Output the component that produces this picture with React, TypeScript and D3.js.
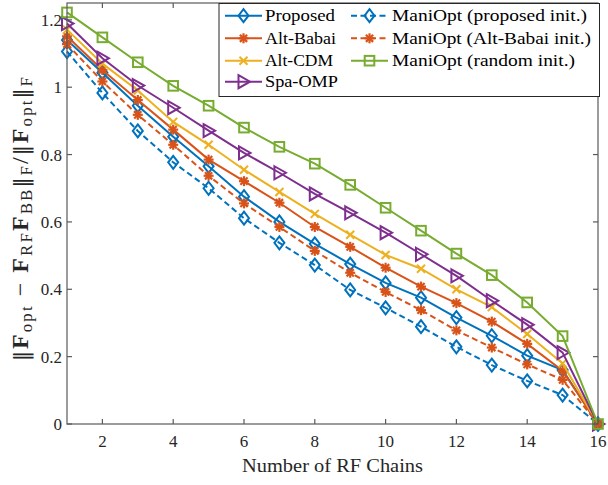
import React from "react";
import * as d3 from "d3";

const chains = [1, 2, 3, 4, 5, 6, 7, 8, 9, 10, 11, 12, 13, 14, 15, 16];
const proposed = [1.14, 1.043, 0.945, 0.853, 0.765, 0.675, 0.6, 0.535, 0.475, 0.419, 0.375, 0.316, 0.262, 0.203, 0.16, 0];
const altBabai = [1.151, 1.051, 0.962, 0.874, 0.785, 0.721, 0.657, 0.585, 0.526, 0.464, 0.408, 0.359, 0.304, 0.238, 0.158, 0];
const altCDM = [1.171, 1.07, 0.99, 0.897, 0.829, 0.755, 0.689, 0.624, 0.562, 0.502, 0.461, 0.4, 0.347, 0.267, 0.18, 0];
const spaOMP = [1.189, 1.086, 1.005, 0.939, 0.871, 0.805, 0.746, 0.683, 0.627, 0.568, 0.504, 0.44, 0.366, 0.295, 0.212, 0];
const maniProp = [1.106, 0.983, 0.87, 0.777, 0.7, 0.611, 0.538, 0.472, 0.398, 0.345, 0.289, 0.229, 0.175, 0.128, 0.086, 0];
const maniBabai = [1.128, 1.017, 0.918, 0.829, 0.737, 0.655, 0.585, 0.514, 0.449, 0.392, 0.338, 0.278, 0.227, 0.177, 0.131, 0];
const maniRand = [1.222, 1.148, 1.074, 1.004, 0.945, 0.88, 0.823, 0.773, 0.71, 0.642, 0.574, 0.506, 0.442, 0.361, 0.261, 0];

const xTicks = [2, 4, 6, 8, 10, 12, 14, 16];
const yTicks = [0, 0.2, 0.4, 0.6, 0.8, 1, 1.2];
const yTickLabels = ["0", "0.2", "0.4", "0.6", "0.8", "1", "1.2"];

type Marker = "diamond" | "asterisk" | "x" | "tri" | "square";
const series: { name: string; values: number[]; color: string; dashed: boolean; marker: Marker }[] = [
  { name: "Proposed", values: proposed, color: "#0072BD", dashed: false, marker: "diamond" },
  { name: "Alt-Babai", values: altBabai, color: "#D95319", dashed: false, marker: "asterisk" },
  { name: "Alt-CDM", values: altCDM, color: "#EDB120", dashed: false, marker: "x" },
  { name: "Spa-OMP", values: spaOMP, color: "#7E2F8E", dashed: false, marker: "tri" },
  { name: "ManiOpt (proposed init.)", values: maniProp, color: "#0072BD", dashed: true, marker: "diamond" },
  { name: "ManiOpt (Alt-Babai init.)", values: maniBabai, color: "#D95319", dashed: true, marker: "asterisk" },
  { name: "ManiOpt (random init.)", values: maniRand, color: "#77AC30", dashed: false, marker: "square" },
];

const W = 608, H = 485;
const L = 67, R = 598, T = 3, B = 424;
const FONT = "'Liberation Serif', 'Times New Roman', serif";
const AX = "#5a5a5a";
const DASH = "6,3.5";

function MarkerShape({ type, x, y, color }: { type: Marker; x: number; y: number; color: string }) {
  const sw = 2;
  if (type === "diamond") {
    return <polygon points={`${x},${y - 6.5} ${x + 5},${y} ${x},${y + 6.5} ${x - 5},${y}`} fill="none" stroke={color} strokeWidth={sw} />;
  }
  if (type === "asterisk") {
    const r = 5, d = 3.6;
    return (
      <g stroke={color} strokeWidth={2.2}>
        <line x1={x} y1={y - r} x2={x} y2={y + r} />
        <line x1={x - r} y1={y} x2={x + r} y2={y} />
        <line x1={x - d} y1={y - d} x2={x + d} y2={y + d} />
        <line x1={x - d} y1={y + d} x2={x + d} y2={y - d} />
      </g>
    );
  }
  if (type === "x") {
    const r = 4;
    return (
      <g stroke={color} strokeWidth={sw}>
        <line x1={x - r} y1={y - r} x2={x + r} y2={y + r} />
        <line x1={x - r} y1={y + r} x2={x + r} y2={y - r} />
      </g>
    );
  }
  if (type === "tri") {
    return <polygon points={`${x - 5},${y - 6.5} ${x + 6.5},${y} ${x - 5},${y + 6.5}`} fill="none" stroke={color} strokeWidth={sw} />;
  }
  return <rect x={x - 4.8} y={y - 4.8} width={9.6} height={9.6} fill="none" stroke={color} strokeWidth={sw} />;
}

export default function App() {
  const x = d3.scaleLinear().domain([1, 16]).range([L, R]);
  const y = d3.scaleLinear().domain([0, 1.25]).range([B, T]);
  const line = d3
    .line<number>()
    .x((_, i) => x(chains[i]))
    .y((v) => y(v));

  const legendRows = [15.7, 38.3, 60.7, 81.7];
  const legendItems = [
    { s: series[0], col: 0, row: 0 },
    { s: series[1], col: 0, row: 1 },
    { s: series[2], col: 0, row: 2 },
    { s: series[3], col: 0, row: 3 },
    { s: series[4], col: 1, row: 0 },
    { s: series[5], col: 1, row: 1 },
    { s: series[6], col: 1, row: 2 },
  ];
  const colX = [[225, 262, 265], [351, 388, 392]];
  const textLens: Record<string, number> = {
    Proposed: 70,
    "Alt-Babai": 71,
    "Alt-CDM": 68,
    "Spa-OMP": 73,
    "ManiOpt (proposed init.)": 195,
    "ManiOpt (Alt-Babai init.)": 199,
    "ManiOpt (random init.)": 183,
  };
  const sub = 17;
  const bar = { fontFamily: "'DejaVu Serif', serif", fontSize: 20 } as const;

  return (
    <svg width={W} height={H} style={{ position: "absolute", left: 0, top: 0, background: "#fff" }} fontFamily={FONT}>
      <rect x={0} y={0} width={W} height={H} fill="#fff" />
      {series.map((s) => (
        <g key={s.name}>
          <path
            d={line(s.values) || ""}
            fill="none"
            stroke={s.color}
            strokeWidth={2}
            strokeDasharray={s.dashed ? DASH : undefined}
          />
          {s.values.map((v, i) => (
            <MarkerShape key={i} type={s.marker} x={x(chains[i])} y={y(v)} color={s.color} />
          ))}
        </g>
      ))}
      <rect x={L} y={T} width={R - L} height={B - T} fill="none" stroke={AX} strokeWidth={1.2} />
      {xTicks.map((t) => (
        <g key={"x" + t}>
          <line x1={x(t)} x2={x(t)} y1={B} y2={B - 5} stroke={AX} strokeWidth={1.2} />
          <line x1={x(t)} x2={x(t)} y1={T} y2={T + 5} stroke={AX} strokeWidth={1.2} />
          <text x={x(t)} y={447} textAnchor="middle" fontSize={17} fill="#262626">
            {t}
          </text>
        </g>
      ))}
      {yTicks.map((t, i) => (
        <g key={"y" + t}>
          <line x1={L} x2={L + 5} y1={y(t)} y2={y(t)} stroke={AX} strokeWidth={1.2} />
          <line x1={R} x2={R - 5} y1={y(t)} y2={y(t)} stroke={AX} strokeWidth={1.2} />
          <text x={62} y={y(t) + 6} textAnchor="end" fontSize={17} fill="#262626">
            {yTickLabels[i]}
          </text>
        </g>
      ))}
      <text x={(L + R) / 2} y={472} textAnchor="middle" fontSize={18} fill="#262626" textLength={181} lengthAdjust="spacingAndGlyphs">
        Number of RF Chains
      </text>
      <text
        transform="translate(28,219) rotate(-90)"
        textAnchor="middle"
        fontSize={24}
        fill="#262626"
        textLength={284}
        lengthAdjust="spacing"
      >
        <tspan {...bar}>‖</tspan>
        <tspan fontWeight="bold">F</tspan>
        <tspan fontSize={sub} dy={4}>opt</tspan>
        <tspan dy={-4}> − </tspan>
        <tspan fontWeight="bold">F</tspan>
        <tspan fontSize={sub} dy={4}>RF</tspan>
        <tspan fontWeight="bold" dy={-4}>F</tspan>
        <tspan fontSize={sub} dy={4}>BB</tspan>
        <tspan dy={-4} {...bar}>‖</tspan>
        <tspan fontSize={sub} dy={4}>F</tspan>
        <tspan dy={-4}>/</tspan>
        <tspan {...bar}>‖</tspan>
        <tspan fontWeight="bold">F</tspan>
        <tspan fontSize={sub} dy={4}>opt</tspan>
        <tspan dy={-4} {...bar}>‖</tspan>
        <tspan fontSize={sub} dy={4}>F</tspan>
      </text>
      <rect x={219} y={3.5} width={380.5} height={93} fill="#fff" stroke="#262626" strokeWidth={1} />
      {legendItems.map(({ s, col, row }) => {
        const [x1, x2, tx] = colX[col];
        const yy = legendRows[row];
        return (
          <g key={"lg" + s.name}>
            <line x1={x1} x2={x2} y1={yy} y2={yy} stroke={s.color} strokeWidth={2} strokeDasharray={s.dashed ? DASH : undefined} />
            <MarkerShape type={s.marker} x={(x1 + x2) / 2} y={yy} color={s.color} />
            <text x={tx} y={yy + 5.5} fontSize={17} fill="#000" textLength={textLens[s.name]} lengthAdjust="spacingAndGlyphs">
              {s.name}
            </text>
          </g>
        );
      })}
    </svg>
  );
}
